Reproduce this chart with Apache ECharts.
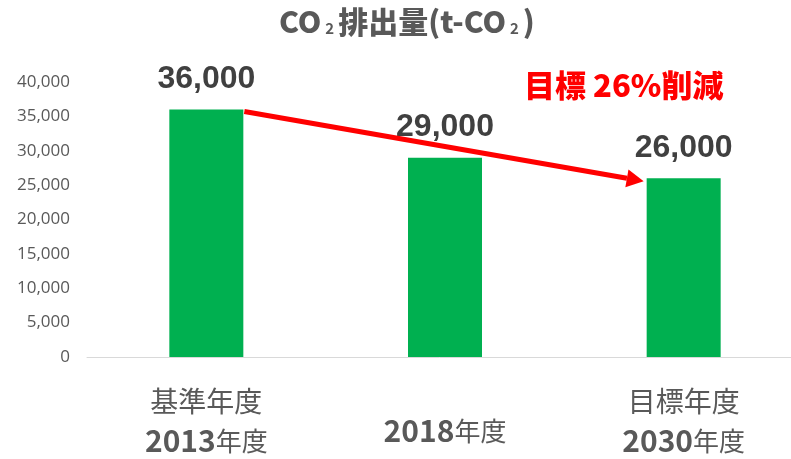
<!DOCTYPE html>
<html>
<head>
<meta charset="utf-8">
<script src="https://cdn.jsdelivr.net/npm/echarts@6/dist/echarts.min.js"></script>
<style>
  html, body { margin: 0; padding: 0; background: #fff; }
  #main { width: 791px; height: 459px; }
</style>
</head>
<body>
<div id="main"></div>
<script>
// データ
var headLabels = ['基準年度', '', '目標年度']
var years = ['2013', '2018', '2030']
var emissions = [36000, 29000, 26000]
var yTicks = [0, 5000, 10000, 15000, 20000, 25000, 30000, 35000, 40000]
var targetText = '目標 26%削減'

var jpFont = '"Noto Sans CJK JP", sans-serif'
var barWidth = 74

var chart = echarts.init(document.getElementById('main'))

chart.setOption({
  animation: false,
  title: {
    text: '{a|CO}{s|2}{a|排出量(t-CO}{s|2}{a|)}',
    left: 274,
    top: 2,
    textStyle: {
      rich: {
        a: { fontFamily: jpFont, fontWeight: 900, fontSize: 30, color: '#595959' },
        s: { fontFamily: jpFont, fontSize: 15, color: '#595959', padding: [12, 4, 0, 4] }
      }
    }
  },
  grid: { left: 87, width: 716, top: 82, bottom: 102, outerBoundsMode: 'none' },
  xAxis: {
    type: 'category',
    data: years,
    axisLine: { lineStyle: { color: '#d9d9d9', width: 1 } },
    axisTick: { show: false },
    axisLabel: {
      margin: 24,
      interval: 0,
      formatter: function(val, idx) {
        var line2 = '{y|' + val + '}{n|年度}'
        if (headLabels[idx]) return '{h|' + headLabels[idx] + '}\n' + line2
        return '{sp|}\n' + line2
      },
      rich: {
        h: { fontFamily: jpFont, fontSize: 28, color: '#595959', lineHeight: 40 },
        sp: { fontSize: 10, lineHeight: 30 },
        y: { fontFamily: jpFont, fontSize: 30, fontWeight: 'bold', color: '#595959', lineHeight: 40 },
        n: { fontFamily: jpFont, fontSize: 26, color: '#595959', lineHeight: 40 }
      }
    }
  },
  yAxis: {
    type: 'value',
    min: yTicks[0],
    max: yTicks[yTicks.length - 1],
    interval: yTicks[1] - yTicks[0],
    axisLine: { show: false },
    axisTick: { show: false },
    splitLine: { show: false },
    axisLabel: {
      margin: 17,
      color: '#595959',
      fontSize: 17,
      fontFamily: '"Open Sans", sans-serif',
      formatter: function(v) { return v.toLocaleString('en-US') }
    }
  },
  series: [{
    type: 'bar',
    data: emissions,
    barWidth: barWidth,
    itemStyle: { color: '#00b050' },
    label: {
      show: true,
      position: 'top',
      distance: 14,
      color: '#404040',
      fontSize: 32,
      fontWeight: 'bold',
      fontFamily: '"Liberation Sans", Arial, sans-serif',
      formatter: function(p) { return p.value.toLocaleString('en-US') }
    },
    z: 2
  }]
})

// 矢印（バーの位置から計算）
function drawArrow() {
  var p1 = chart.convertToPixel({ seriesIndex: 0 }, [0, emissions[0]])
  var p2 = chart.convertToPixel({ seriesIndex: 0 }, [2, emissions[2]])
  var x1 = p1[0] + barWidth / 2 + 1
  var y1 = p1[1] + 2
  var x2 = p2[0] - barWidth / 2 - 3
  var y2 = p2[1] + 3
  var ang = Math.atan2(y2 - y1, x2 - x1)
  var headLen = 17
  var headW = 9
  var bx = x2 - headLen * Math.cos(ang)
  var by = y2 - headLen * Math.sin(ang)
  var nx = -Math.sin(ang)
  var ny = Math.cos(ang)
  chart.setOption({
    graphic: [
      {
        type: 'line',
        z: 10,
        shape: { x1: x1, y1: y1, x2: bx, y2: by },
        style: { stroke: '#ff0000', lineWidth: 5 }
      },
      {
        type: 'polygon',
        z: 10,
        shape: { points: [[x2, y2], [bx + nx * headW, by + ny * headW], [bx - nx * headW, by - ny * headW]] },
        style: { fill: '#ff0000' }
      },
      {
        type: 'text',
        z: 10,
        left: 524,
        top: 70,
        style: {
          text: targetText,
          fill: '#ff0000',
          font: '900 31px ' + jpFont
        }
      }
    ]
  })
}
drawArrow()
</script>
</body>
</html>
